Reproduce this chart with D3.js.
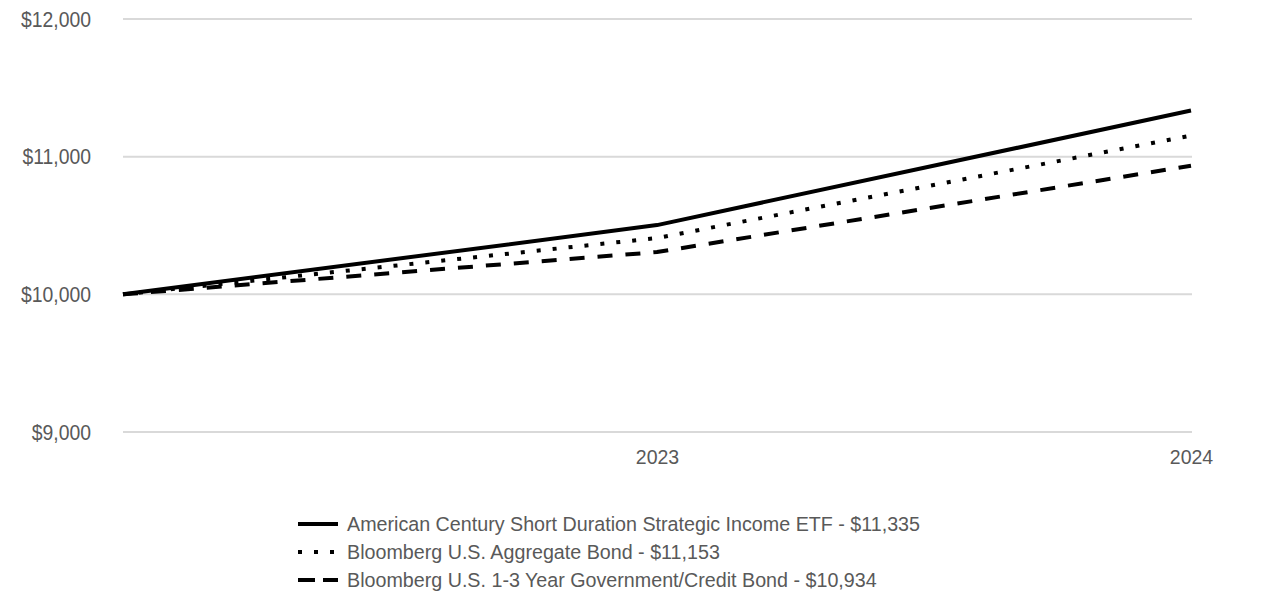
<!DOCTYPE html>
<html><head><meta charset="utf-8">
<script src="https://cdn.jsdelivr.net/npm/d3@7"></script>
<style>
html,body{margin:0;padding:0;background:#fff;}
text{font-family:"Liberation Sans",Arial,sans-serif;fill:#595959;}
</style></head><body>
<svg id="c" width="1286" height="614"></svg>
<script>
const periods = ["", "2023", "2024"];
const etf = [10000, 10503, 11335];
const aggregate = [10000, 10409, 11153];
const govCredit = [10000, 10307, 10934];
const seriesNames = [
  "American Century Short Duration Strategic Income ETF - $11,335",
  "Bloomberg U.S. Aggregate Bond - $11,153",
  "Bloomberg U.S. 1-3 Year Government/Credit Bond - $10,934"
];
const yTicks = [9000, 10000, 11000, 12000];

const series = [
  {name: seriesNames[0], values: etf, dash: null, legendDash: null},
  {name: seriesNames[1], values: aggregate, dash: "4,12", legendDash: "4,12"},
  {name: seriesNames[2], values: govCredit, dash: "15,13", legendDash: "17,8"}
];

const svg = d3.select("#c");
const x = d3.scalePoint().domain(periods.map((d,i)=>i)).range([123, 1191]);
const y = d3.scaleLinear().domain([9000, 12000]).range([432, 19]);

// gridlines
svg.append("g").selectAll("line").data(yTicks).join("line")
  .attr("x1", 123).attr("x2", 1192)
  .attr("y1", d=>y(d)).attr("y2", d=>y(d))
  .attr("stroke", "#d9d9d9").attr("stroke-width", 2);

// y labels
const yAxis = d3.axisLeft(y).tickValues(yTicks).tickSize(0).tickPadding(0)
  .tickFormat(d => "$" + d3.format(",")(d));
const gy = svg.append("g").attr("transform", "translate(91,0)").call(yAxis);
gy.select(".domain").remove();
gy.attr("font-family", null).attr("font-size", null);
gy.selectAll("text").attr("font-size", 22).attr("fill", "#595959")
  .attr("transform", "scale(0.88,1)");

// x labels
const xAxis = d3.axisBottom(x).tickSize(0).tickPadding(0).tickFormat(i => periods[i]);
const gx = svg.append("g").attr("transform", "translate(0,449)").call(xAxis);
gx.select(".domain").remove();
gx.attr("font-family", null).attr("font-size", null);
gx.selectAll("text").attr("font-size", 21).attr("fill", "#595959")
  .attr("transform", "scale(0.93,1)");

// lines
const line = d3.line().x((d,i)=>x(i)).y(d=>y(d));
svg.append("g").selectAll("path").data(series).join("path")
  .attr("d", d=>line(d.values))
  .attr("fill", "none").attr("stroke", "#000").attr("stroke-width", 4)
  .attr("stroke-dasharray", d=>d.dash)
  .attr("stroke-linejoin", "round");

// legend
const lg = svg.append("g").attr("transform", "translate(298,524)");
const rows = lg.selectAll("g").data(series).join("g")
  .attr("transform", (d,i)=>`translate(0,${i*28})`);
rows.append("line").attr("x1", 0).attr("x2", 40).attr("y1", 0).attr("y2", 0)
  .attr("stroke", "#000").attr("stroke-width", 4)
  .attr("stroke-dasharray", d=>d.legendDash);
rows.append("text").attr("x", 49).attr("y", 0).attr("dy", "0.35em")
  .attr("font-size", 19.7).text(d=>d.name);
</script>
</body></html>
